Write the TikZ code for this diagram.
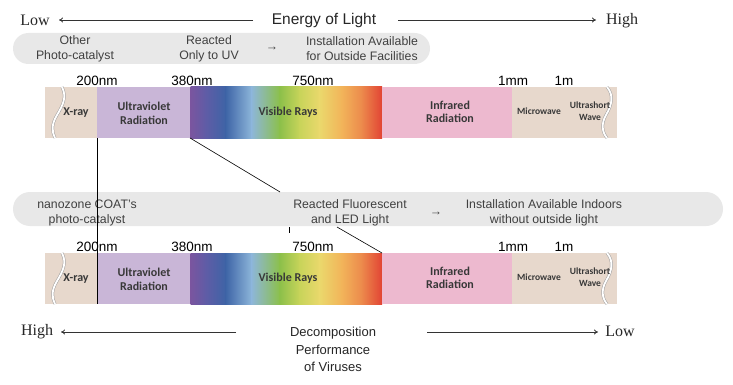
\documentclass[tikz,border=0pt]{standalone}
\usepackage{fontspec}
\setmainfont{Liberation Sans}
\newfontfamily\serifrm{Liberation Serif}
\newfontfamily\barfont{Carlito}
\usetikzlibrary{arrows.meta}
\definecolor{beigec}{HTML}{E7D8CC}
\definecolor{uvc}{HTML}{C9B6D7}
\definecolor{irc}{HTML}{EDB9CF}
\definecolor{pillc}{HTML}{E8E8E8}
\definecolor{txtc}{HTML}{404040}
\definecolor{bartxt}{HTML}{383838}
\definecolor{sA}{HTML}{7A559F}
\definecolor{sB}{HTML}{5F5CA6}
\definecolor{sC}{HTML}{3E64A6}
\definecolor{sD}{HTML}{8DB6DA}
\definecolor{sE}{HTML}{8CC04A}
\definecolor{sF}{HTML}{C8D45A}
\definecolor{sG}{HTML}{EAD86C}
\definecolor{sH}{HTML}{F2B45A}
\definecolor{sI}{HTML}{EC8A4C}
\definecolor{sJ}{HTML}{E24434}
\newcommand\specseg[4]{\shade[left color=#3,right color=#4] (#1,87) rectangle (#2,138);}
\newcommand\drawspectrum[1]{%
  \fill[beigec] (45,87) rectangle (97,138);
  \fill[uvc] (97,87) rectangle (191,138);
  \specseg{190.5}{206}{sA}{sB}
  \specseg{205.5}{226}{sB}{sC}
  \specseg{225.5}{252}{sC}{sD}
  \specseg{251.5}{280}{sD}{sE}
  \specseg{279.5}{300}{sE}{sF}
  \specseg{299.5}{320}{sF}{sG}
  \specseg{319.5}{342}{sG}{sH}
  \specseg{341.5}{362}{sH}{sI}
  \specseg{361.5}{382}{sI}{sJ}
  \fill[irc] (382,87) rectangle (512,138);
  \fill[beigec] (512,87) rectangle (617,138);
  \draw[wave] (62,87) .. controls (67,97) and (63,105) .. (57,115) .. controls (51,125) and (52,132) .. (55,138);
  \draw[wave] (607,87) .. controls (614,95) and (612,105) .. (606,115) .. controls (601,124) and (602,132) .. (607,138);
  \node[nm] (nmA#1) at (97,81) {200nm};
  \node[nm] (nmB#1) at (192,81) {380nm};
  \node[nm] (nmC#1) at (313,81) {750nm};
  \node[nm] (nmD#1) at (513,81) {1mm};
  \node[nm] (nmE#1) at (564,81) {1m};
  \node[barlbl] (xr#1) at (76,113) {X-ray};
  \node[barlbl] (uv#1) at (144,113.5) {Ultraviolet\\Radiation};
  \node[barlbl] (vis#1) at (288,112) {Visible Rays};
  \node[barlbl] (ir#1) at (450,112) {Infrared\\Radiation};
  \node[smlbl] (mw#1) at (539,111) {Microwave};
  \node[smlbl] (us#1) at (590,111) {Ultrashort\\Wave};
}
\begin{document}
\begin{tikzpicture}[x=1pt,y=-1pt,
  every node/.style={inner sep=0pt},
  wave/.style={draw=gray!75,line width=0.5pt,double=white,double distance=1.8pt},
  nm/.style={font=\fontsize{13.5}{15}\selectfont,text=black},
  barlbl/.style={font=\barfont\bfseries\fontsize{12}{13.5}\selectfont,text=bartxt,align=center},
  smlbl/.style={font=\barfont\bfseries\fontsize{9.5}{12}\selectfont,text=bartxt,align=center},
  pilltxt/.style={font=\fontsize{12.3}{15}\selectfont,text=txtc,align=center},
  endw/.style={font=\serifrm\fontsize{16}{18}\selectfont,text=black!85},
  midw/.style={font=\fontsize{15.5}{18}\selectfont,text=black!85},
  botw/.style={font=\fontsize{13}{17.5}\selectfont,text=black!85,align=center},
  arr/.style={draw=black!80,line width=0.8pt,-{To[length=4pt,width=5pt]}},
  conn/.style={draw=black,line width=0.7pt}]
\useasboundingbox (0,0) rectangle (733,385);
\fill[white] (0,0) rectangle (733,385);

% top heading
\node[endw] (low1) at (35,20) {Low};
\node[midw] (energy) at (324,20) {Energy of Light};
\node[endw] (high1) at (622,21) {High};
\coordinate (la1) at (253,20);
\coordinate (le1) at (59,20);
\coordinate (ra1) at (398,20);
\coordinate (re1) at (596,20);
\draw[arr] (la1) -- (le1);
\draw[arr] (ra1) -- (re1);

% top pill
\node[fill=pillc,rounded corners=15.5pt,minimum width=417pt,minimum height=31pt] (pill1) at (221.5,48.5) {};
\node[pilltxt] (p1a) at (75,48.5) {Other\\Photo-catalyst};
\node[pilltxt] (p1b) at (209,48.5) {Reacted\\Only to UV};
\node[pilltxt] (p1c) at (272,49) {→};
\node[pilltxt] (p1d) at (362,48.5) {Installation Available\\for Outside Facilities};

% top spectrum
\drawspectrum{t}

% lower pill
\node[fill=pillc,rounded corners=17pt,minimum width=710pt,minimum height=34pt] (pill2) at (368,209) {};
\node[pilltxt] (p2a) at (87,212.5) {nanozone COAT's\\photo-catalyst};
\node[pilltxt] (p2b) at (350,212.5) {Reacted Fluorescent\\and LED Light};
\node[pilltxt] (p2c) at (436,213.5) {→};
\node[pilltxt] (p2d) at (544,212.5) {Installation Available Indoors\\without outside light};

% lower spectrum
\begin{scope}[shift={(0,166)}]
\drawspectrum{b}
\end{scope}

% connectors
\coordinate (v1) at (97,138);
\coordinate (v2) at (97,304);
\draw[conn] (v1) -- (v2);
\coordinate (d1a) at (190,138);
\coordinate (d1b) at (280,192);
\draw[conn,line width=0.6pt] (d1a) -- (d1b);
\coordinate (d2a) at (337,227);
\coordinate (d2b) at (382,253);
\draw[conn,line width=0.6pt] (d2a) -- (d2b);
\coordinate (tka) at (289,227);
\coordinate (tkb) at (289,233);
\draw[conn] (tka) -- (tkb);

% bottom heading
\node[endw] (high2) at (37,332) {High};
\node[botw] (decomp) at (333,349.5) {Decomposition\\Performance\\of Viruses};
\node[endw] (low2) at (620,331) {Low};
\coordinate (la2) at (236,332);
\coordinate (le2) at (61,332);
\coordinate (ra2) at (427,332);
\coordinate (re2) at (598,332);
\draw[arr] (la2) -- (le2);
\draw[arr] (ra2) -- (re2);
\end{tikzpicture}
\end{document}
